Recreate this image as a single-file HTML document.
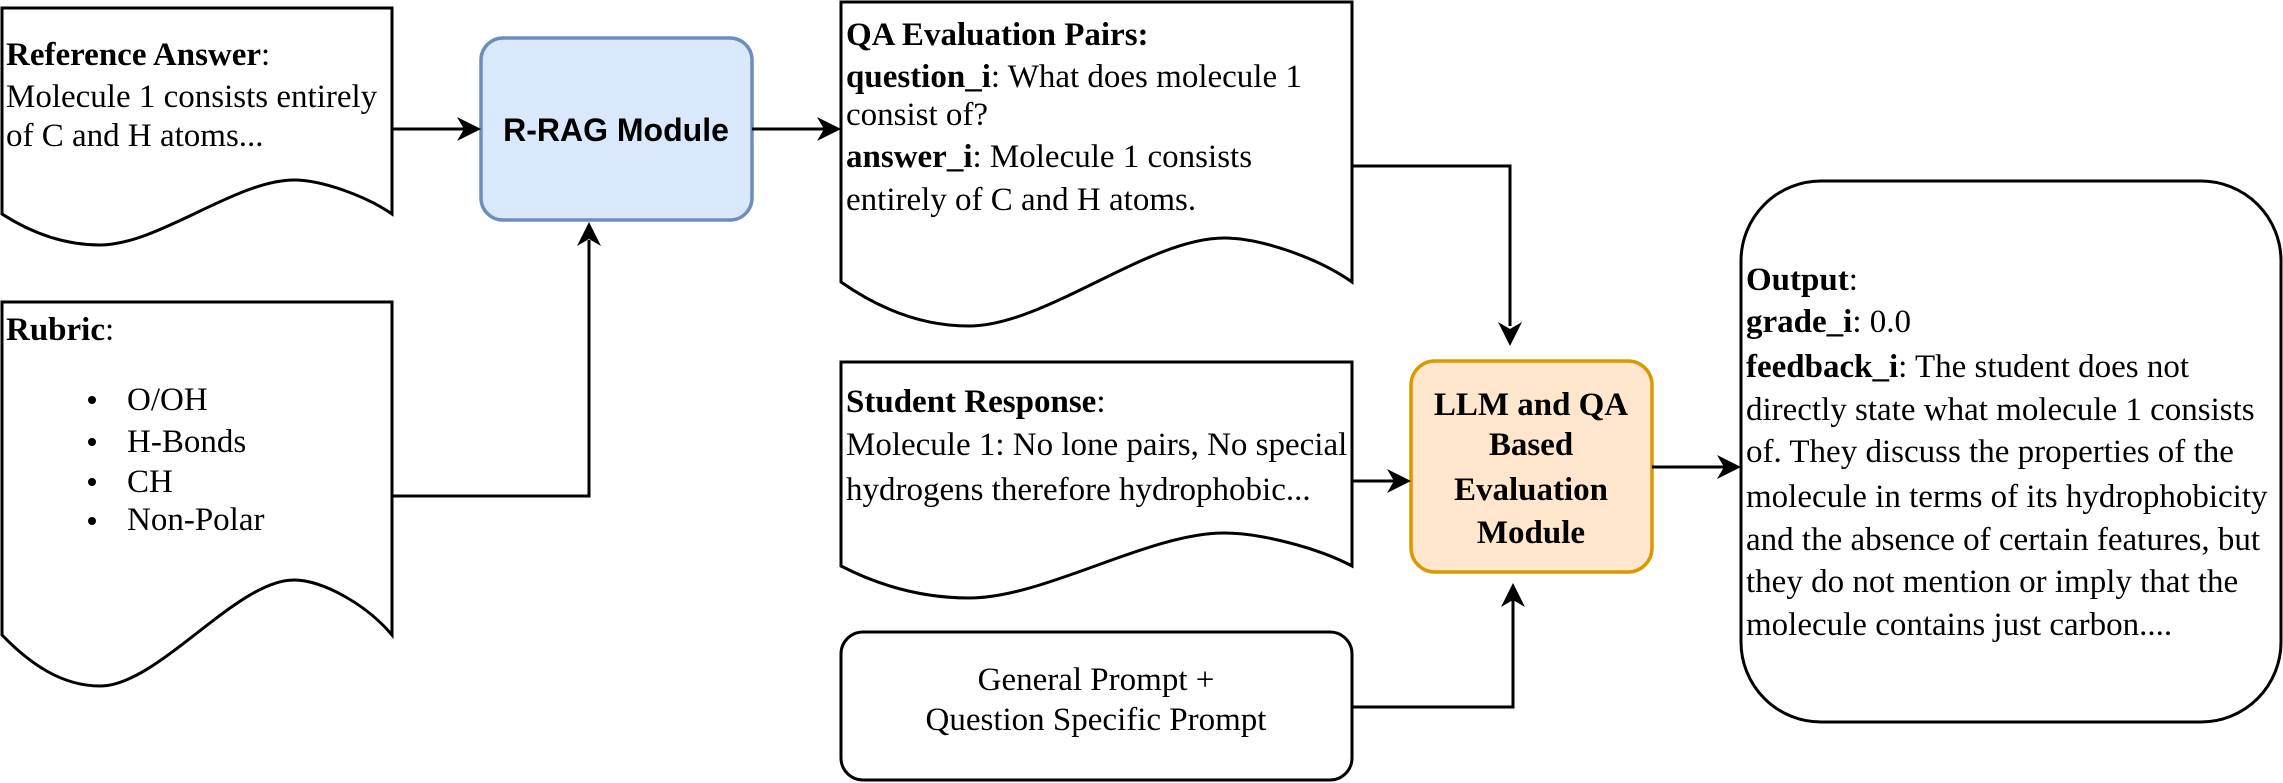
<!DOCTYPE html>
<html><head><meta charset="utf-8"><style>
html,body{margin:0;padding:0;background:#fff;}
svg{display:block;}
.t{font-family:"Liberation Serif",serif;font-size:33px;fill:#000;}
.b{font-weight:bold;}
</style></head><body>
<svg width="2283" height="783" viewBox="0 0 2283 783" xmlns="http://www.w3.org/2000/svg">
<g fill="#fff" stroke="#000" stroke-width="3">
<path d="M2,8 H392 V214 C366,196 322,180 294,180 C236,180 158,245 100,245 C62,245 30,232 2,214 Z"/>
<path d="M2,302 H392 V635 C366,604 322,580 294,580 C236,580 158,686 100,686 C62,686 30,664 2,635 Z"/>
<path d="M841,2 H1352 V282 C1318,258 1261,238 1224,238 C1148,238 1045,326 969,326 C920,326 878,308 841,282 Z"/>
<path d="M841,362 H1352 V566 C1318,548 1261,533 1224,533 C1148,533 1045,598 969,598 C920,598 878,585 841,566 Z"/>
<rect x="841" y="632" width="511" height="148" rx="22"/>
<rect x="1741" y="181" width="540" height="541" rx="80"/>
</g>
<rect x="481" y="38" width="271" height="182" rx="22" fill="#dae8fc" stroke="#6c8ebf" stroke-width="3.5"/>
<rect x="1411" y="361" width="241" height="211" rx="24" fill="#ffe6cc" stroke="#d79b00" stroke-width="3.5"/>

<g fill="none" stroke="#000" stroke-width="3">
<path d="M392,129 H465"/>
<path d="M752,129 H825"/>
<path d="M392,496 H589 V240"/>
<path d="M1352,166 H1510 V326"/>
<path d="M1352,481 H1395"/>
<path d="M1352,707 H1513 V600"/>
<path d="M1652,467 H1725"/>
</g>
<g fill="#000">
<polygon points="481,129 457,117 464,129 457,141"/>
<polygon points="841,129 817,117 824,129 817,141"/>
<polygon points="589,222 577,246 589,239 601,246"/>
<polygon points="1510,346 1498,322 1510,329 1522,322"/>
<polygon points="1411,481 1387,469 1394,481 1387,493"/>
<polygon points="1513,583 1501,607 1513,600 1525,607"/>
<polygon points="1741,467 1717,455 1724,467 1717,479"/>
</g>

<text class="t" x="6" y="65"><tspan class="b">Reference Answer</tspan>:</text>
<text class="t" x="6" y="107">Molecule 1 consists entirely</text>
<text class="t" x="6" y="146">of C and H atoms...</text>

<text class="t" x="6" y="340"><tspan class="b">Rubric</tspan>:</text>
<g fill="#000"><circle cx="92" cy="400" r="4"/><circle cx="92" cy="442" r="4"/><circle cx="92" cy="482" r="4"/><circle cx="92" cy="521" r="4"/></g>
<text class="t" x="127" y="410">O/OH</text>
<text class="t" x="127" y="452">H-Bonds</text>
<text class="t" x="127" y="492">CH</text>
<text class="t" x="127" y="530">Non-Polar</text>

<text x="616" y="141" text-anchor="middle" style="font-family:'Liberation Sans',sans-serif;font-size:32px;font-weight:bold;">R-RAG Module</text>

<text class="t" x="846" y="45"><tspan class="b">QA Evaluation Pairs:</tspan></text>
<text class="t" x="846" y="87"><tspan class="b">question_i</tspan>: What does molecule 1</text>
<text class="t" x="846" y="125">consist of?</text>
<text class="t" x="846" y="167"><tspan class="b">answer_i</tspan>: Molecule 1 consists</text>
<text class="t" x="846" y="210">entirely of C and H atoms.</text>

<text class="t" x="846" y="412"><tspan class="b">Student Response</tspan>:</text>
<text class="t" x="846" y="455">Molecule 1: No lone pairs, No special</text>
<text class="t" x="846" y="500">hydrogens therefore hydrophobic...</text>

<text class="t" x="1096" y="690" text-anchor="middle">General Prompt +</text>
<text class="t" x="1096" y="730" text-anchor="middle">Question Specific Prompt</text>

<g class="t b" text-anchor="middle">
<text x="1531" y="415">LLM and QA</text>
<text x="1531" y="455">Based</text>
<text x="1531" y="500">Evaluation</text>
<text x="1531" y="543">Module</text>
</g>

<text class="t" x="1746" y="290"><tspan class="b">Output</tspan>:</text>
<text class="t" x="1746" y="332"><tspan class="b">grade_i</tspan>: 0.0</text>
<text class="t" x="1746" y="377"><tspan class="b">feedback_i</tspan>: The student does not</text>
<text class="t" x="1746" y="420">directly state what molecule 1 consists</text>
<text class="t" x="1746" y="462">of. They discuss the properties of the</text>
<text class="t" x="1746" y="507">molecule in terms of its hydrophobicity</text>
<text class="t" x="1746" y="550">and the absence of certain features, but</text>
<text class="t" x="1746" y="592">they do not mention or imply that the</text>
<text class="t" x="1746" y="635">molecule contains just carbon....</text>
</svg>
</body></html>
